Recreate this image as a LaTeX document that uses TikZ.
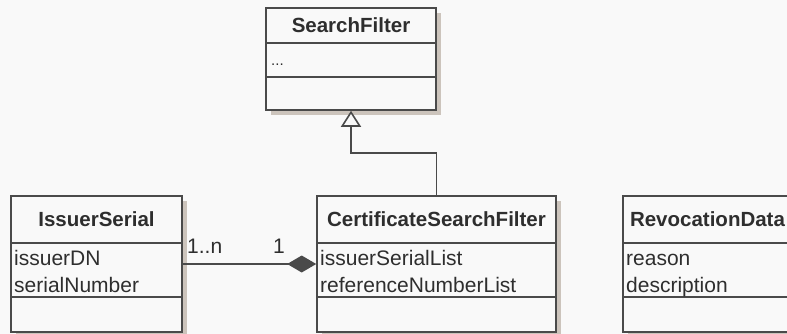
\documentclass[tikz,border=0pt]{standalone}
\usepackage{fontspec}
\setmainfont{Liberation Sans}
\usetikzlibrary{arrows.meta}

\definecolor{umlline}{HTML}{4A4A4A}
\definecolor{umlshadow}{HTML}{CCC4BC}
\definecolor{umlbg}{HTML}{F9F9F9}
\definecolor{umltext}{HTML}{2E2E2E}

\tikzset{
  classbox/.style={draw=umlline, line width=1.6pt, fill=umlbg, rectangle, inner sep=0pt},
  sepline/.style={draw=umlline, line width=1.6pt},
  titletext/.style={font=\fontsize{20.5}{24}\selectfont\bfseries, text=umltext, inner sep=0pt},
  attrtext/.style={font=\fontsize{21}{24}\selectfont, text=umltext, inner sep=0pt, anchor=base west},
  multtext/.style={font=\fontsize{21}{24}\selectfont, text=umltext, inner sep=0pt, anchor=base west},
  connector/.style={draw=umlline, line width=1.6pt},
  generalization/.style={connector, -{Triangle[open, length=16pt, width=20pt, fill=umlbg]}},
  composition/.style={connector, -{Diamond[length=29pt, width=17pt, fill=umlline]}},
}

% #1 name, (#2,#3) top left, (#4,#5) bottom right,
% #6/#7 rows of the two compartment separators, #8 class name, #9 attribute list
\newcommand\umlclass[9]{%
  \fill[umlshadow] (#2+5,#3+5) rectangle (#4+5,#5+5);
  \node[classbox, minimum width={(#4-#2)*1pt}, minimum height={(#5-#3)*1pt}]
    (#1) at ({(#2+#4)/2},{(#3+#5)/2}) {};
  \draw[sepline] (#1.west |- 0,#6) -- (#1.east |- 0,#6);
  \draw[sepline] (#1.west |- 0,#7) -- (#1.east |- 0,#7);
  \node[titletext] (#1-title) at ({(#2+#4)/2},{(#3+#6)/2}) {#8};
  \foreach \attr [count=\i] in {#9} {
    \node[attrtext] (#1-attr\i) at (#2+3,{#6+22+(\i-1)*27}) {\attr};
  }%
}

\begin{document}
\begin{tikzpicture}[x=1pt, y=-1pt]
  \fill[umlbg] (0,0) rectangle (787,334);
  \useasboundingbox (0,0) rectangle (787,334);

  % SearchFilter (abstract base)
  \fill[umlshadow] (266+5,8+5) rectangle (436+5,110+5);
  \node[classbox, minimum width=170pt, minimum height=102pt] (sf) at (351,59) {};
  \draw[sepline] (sf.west |- 0,43) -- (sf.east |- 0,43);
  \draw[sepline] (sf.west |- 0,77) -- (sf.east |- 0,77);
  \node[titletext] (sf-title) at (351,25.5) {SearchFilter};
  \node[attrtext, font=\fontsize{15}{18}\selectfont] (sf-attr1) at (271,66) {...};

  \umlclass{is}{11}{196}{182}{332}{243}{297}{IssuerSerial}{issuerDN,serialNumber}
  \umlclass{csf}{317}{196}{556}{332}{243}{297}{CertificateSearchFilter}{issuerSerialList,referenceNumberList}
  \umlclass{rd}{623}{196}{792}{332}{243}{297}{RevocationData}{reason,description}

  % inheritance: CertificateSearchFilter -> SearchFilter
  \coordinate (bend) at (0,153);
  \draw[generalization] (csf.north) -- (csf.north |- bend) -| (sf.south);

  % composition: IssuerSerial parts of CertificateSearchFilter
  \draw[composition] (is.east) -- (csf.west);
  \node[multtext] (mult-many) at (187,253) {1..n};
  \node[multtext] (mult-one) at (273,253) {1};
\end{tikzpicture}
\end{document}
